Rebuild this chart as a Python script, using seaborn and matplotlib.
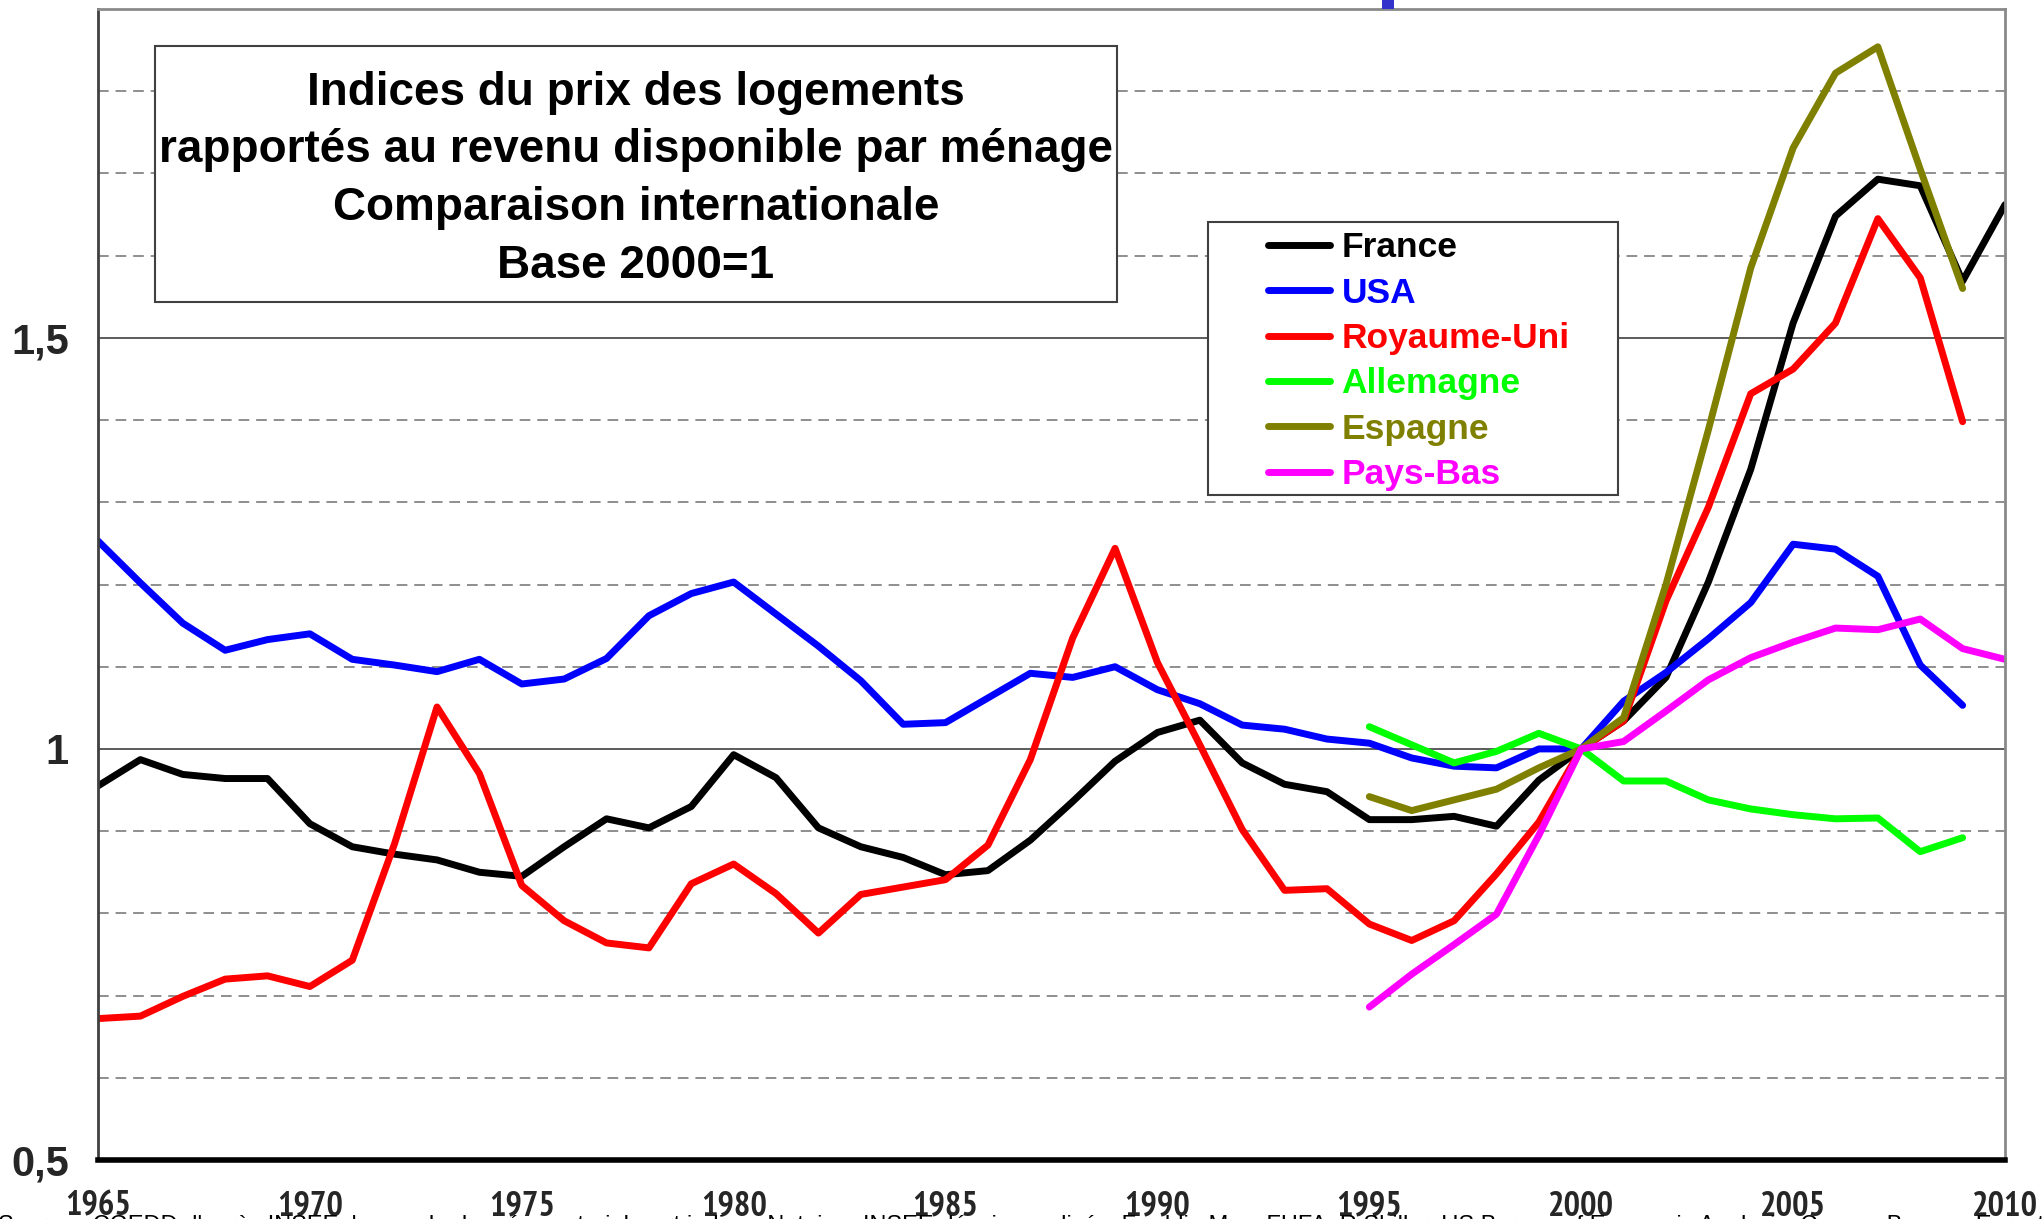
import numpy as np
import pandas as pd
import matplotlib
matplotlib.use("Agg")
import matplotlib.pyplot as plt
import seaborn as sns
from matplotlib import font_manager
from matplotlib.patches import Rectangle
from matplotlib.lines import Line2D

# ---------------- data ----------------
years_long = list(range(1965, 2011))      # 1965..2010
years_recent = list(range(1995, 2011))    # 1995..2010

france = [0.955, 0.987, 0.969, 0.964, 0.964, 0.909, 0.881, 0.872, 0.865, 0.850,
          0.845, 0.881, 0.915, 0.904, 0.930, 0.993, 0.965, 0.904, 0.881, 0.868,
          0.847, 0.852, 0.889, 0.936, 0.985, 1.020, 1.035, 0.983, 0.957, 0.948,
          0.914, 0.914, 0.918, 0.906, 0.962, 1.000, 1.034, 1.087, 1.203, 1.340,
          1.518, 1.648, 1.693, 1.685, 1.569, 1.662]
usa = [1.253, 1.202, 1.153, 1.120, 1.133, 1.140, 1.109, 1.102, 1.094, 1.109,
       1.079, 1.085, 1.110, 1.162, 1.189, 1.203, 1.164, 1.125, 1.083, 1.030,
       1.032, 1.062, 1.092, 1.087, 1.100, 1.072, 1.055, 1.029, 1.024, 1.012,
       1.007, 0.989, 0.979, 0.977, 1.000, 1.000, 1.058, 1.093, 1.134, 1.178,
       1.249, 1.243, 1.210, 1.102, 1.053]
royaume_uni = [0.672, 0.675, 0.699, 0.720, 0.724, 0.711, 0.743, 0.885, 1.051, 0.970,
               0.834, 0.791, 0.764, 0.758, 0.836, 0.860, 0.824, 0.776, 0.823, 0.832,
               0.841, 0.883, 0.987, 1.135, 1.244, 1.105, 1.005, 0.902, 0.828, 0.830,
               0.787, 0.767, 0.791, 0.848, 0.911, 1.000, 1.034, 1.180, 1.294, 1.432,
               1.462, 1.518, 1.645, 1.573, 1.398]
allemagne = [1.027, 1.005, 0.983, 0.997, 1.019, 1.000, 0.961, 0.961, 0.938, 0.927,
             0.920, 0.915, 0.916, 0.875, 0.892]
espagne = [0.942, 0.925, 0.938, 0.951, 0.977, 1.000, 1.038, 1.200, 1.388, 1.585,
           1.731, 1.822, 1.854, 1.705, 1.560]
pays_bas = [0.686, 0.726, 0.762, 0.799, 0.895, 1.000, 1.009, 1.046, 1.084, 1.111,
            1.130, 1.147, 1.145, 1.158, 1.122, 1.109]

series_names = ["France", "USA", "Royaume-Uni", "Allemagne", "Espagne", "Pays-Bas"]
series_colors = ["#000000", "#0000FF", "#FF0000", "#00FF00", "#808000", "#FF00FF"]

title_lines = ["Indices du prix des logements",
               "rapportés au revenu disponible par ménage",
               "Comparaison internationale",
               "Base 2000=1"]
ytick_values = [0.5, 1.0, 1.5]
ytick_labels = ["0,5", "1", "1,5"]
xtick_values = list(range(1965, 2011, 5))
xtick_labels = [str(y) for y in xtick_values]
source_text = ("Source : CGEDD d'après INSEE, bases de données notariales et indices Notaires-INSEE "
               "désaisonnalisés, Freddie Mac, FHFA, R.Shiller, US Bureau of Economic Analysis, Census Bureau, "
               "Eurostat")

# ---------------- build long table ----------------
def rows(name, yrs, vals):
    return pd.DataFrame({"annee": yrs[:len(vals)], "valeur": vals, "pays": name})

df = pd.concat([
    rows("France", years_long, france),
    rows("USA", years_long, usa),
    rows("Royaume-Uni", years_long, royaume_uni),
    rows("Allemagne", years_recent, allemagne),
    rows("Espagne", years_recent, espagne),
    rows("Pays-Bas", years_recent, pays_bas),
], ignore_index=True)

# ---------------- style ----------------
sns.set_style("white")
plt.rcParams["font.family"] = ["Liberation Sans", "DejaVu Sans"]

# pick a narrow / condensed bold font for the year labels if one is installed
def pick_narrow_bold():
    fl = font_manager.fontManager.ttflist
    def isbold(f):
        w = f.weight
        return (isinstance(w, int) and w >= 600) or (isinstance(w, str) and "bold" in w.lower())
    for pref in ["Liberation Sans Narrow", "Arial Narrow"]:
        for f in fl:
            if f.name == pref and isbold(f):
                return f.fname
    for f in fl:
        if "Narrow" in f.name and isbold(f):
            return f.fname
    for f in fl:
        if ("condensed" in str(f.stretch).lower() or "Condensed" in f.name) and isbold(f) \
                and "Sans" in f.name and "Mono" not in f.name:
            return f.fname
    return None

narrow_file = pick_narrow_bold()

W, H = 2044, 1219
fig = plt.figure(figsize=(W / 100, H / 100), dpi=100)
ax_l, ax_r, ax_t, ax_b = 98, 2005, 9, 1160
ax = fig.add_axes([ax_l / W, 1 - ax_b / H, (ax_r - ax_l) / W, (ax_b - ax_t) / H])

palette = dict(zip(series_names, series_colors))
sns.lineplot(data=df, x="annee", y="valeur", hue="pays", hue_order=series_names,
             palette=palette, linewidth=5, ax=ax, legend=False, estimator=None,
             zorder=2)
for ln in ax.lines:
    ln.set_solid_joinstyle("round")
    ln.set_solid_capstyle("round")

ax.set_xlim(1965, 2010)
ax.set_ylim(0.5, 1.9)

# grid lines
for v in np.round(np.arange(0.6, 1.85, 0.1), 2):
    if abs(v - 1.0) < 1e-6 or abs(v - 1.5) < 1e-6:
        ax.axhline(v, color="#404040", lw=1.2, zorder=0.5)
    else:
        ax.axhline(v, color="#707070", lw=1.1, ls=(0, (7, 4.5)), zorder=0.5)

# spines
for s in ["top", "right"]:
    ax.spines[s].set_color("#8a8a8a")
    ax.spines[s].set_linewidth(2)
ax.spines["left"].set_color("#404040")
ax.spines["left"].set_linewidth(2)
ax.spines["bottom"].set_color("#000000")
ax.spines["bottom"].set_linewidth(4)

# ticks
ax.set_xticks(xtick_values)
if narrow_file:
    xfp = font_manager.FontProperties(fname=narrow_file, size=26)
    ax.set_xticklabels(xtick_labels, fontproperties=xfp)
else:
    ax.set_xticklabels(xtick_labels, fontsize=21, fontweight="bold")
ax.set_yticks(ytick_values)
ax.set_yticklabels(ytick_labels, fontsize=30, fontweight="bold")
ax.tick_params(axis="x", direction="out", length=9, width=2.5, color="#000000", pad=13)
ax.tick_params(axis="y", direction="out", length=9, width=1.2, color="#404040", pad=12)
ax.set_xlabel("")
ax.set_ylabel("")

# scale the year labels so that "1965" is about 66 px wide, as in the reference
fig.canvas.draw()
renderer = fig.canvas.get_renderer()
lab0 = ax.get_xticklabels()[0]
wpx = lab0.get_window_extent(renderer).width
if wpx > 0:
    newsize = lab0.get_fontsize() * 66.0 / wpx
    for lab in ax.get_xticklabels():
        lab.set_fontsize(newsize)

# title box
ax.add_patch(Rectangle((0.0299, 0.7454), 0.5044, 0.2225, transform=ax.transAxes,
                       facecolor="white", edgecolor="#404040", lw=1.5, zorder=3))
for txt, yf in zip(title_lines, [0.9270, 0.8775, 0.8275, 0.7770]):
    ax.text(0.282, yf, txt, transform=ax.transAxes, ha="center", va="center",
            fontsize=33, fontweight="bold", color="black", zorder=4)

# legend box + legend
ax.add_patch(Rectangle((0.582, 0.5778), 0.215, 0.2372, transform=ax.transAxes,
                       facecolor="white", edgecolor="#404040", lw=1.5, zorder=3))
handles = [Line2D([0], [0], color=c, lw=5, solid_capstyle="round") for c in series_colors]
leg = ax.legend(handles, series_names, loc="upper left", bbox_to_anchor=(0.6135, 0.8070),
                frameon=False, borderpad=0, borderaxespad=0, handlelength=1.75,
                handletextpad=0.33, labelspacing=0.35, labelcolor="linecolor",
                prop={"family": ["Liberation Sans", "DejaVu Sans"], "weight": "bold", "size": 25.5})
leg.set_zorder(6)

# small blue mark at top (cut-off element)
fig.patches.append(Rectangle((1382 / W, 1 - 9 / H), 12 / W, 9 / H, transform=fig.transFigure,
                             facecolor="#3333cc", edgecolor="none", zorder=10))

# source text, cut by the bottom edge
fig.text(-0.001, 1 - 1215 / H, source_text, ha="left", va="top", fontsize=17,
         color="black")

fig.savefig("out.png", dpi=100)
